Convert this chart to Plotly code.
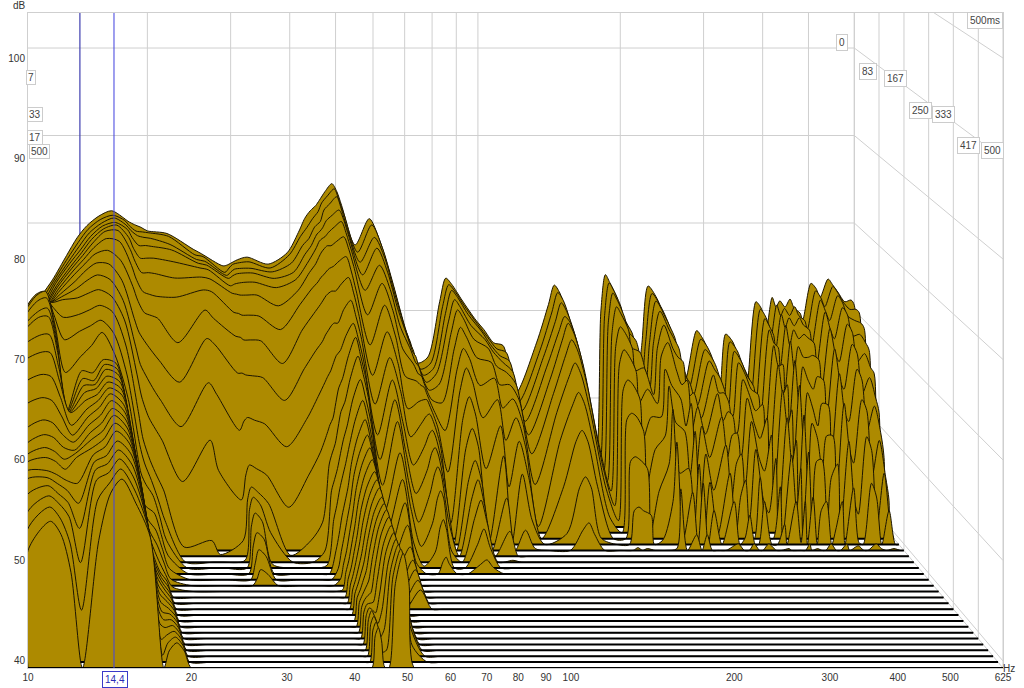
import math
import plotly.graph_objects as go

FLOOR_DB = 39.3
SLICE_COUNT = 31
X_TICKS = [10, 20, 30, 40, 50, 60, 70, 80, 90, 100, 200, 300, 400, 500, 625]
Y_TICKS = [40, 50, 60, 70, 80, 90, 100]
TIME_TICKS = [0, 83, 167, 250, 333, 417, 500]
CURSOR_HZ = 14.4

# Level (dB) at one frequency, one value per time slice from back (0 ms) to front (500 ms).
# Lists stop where the level has dropped to the floor.
L10 = [55,56,57,58,59,60,60.5,61,61.5,62,62.5,63,63.7,64.3,64.8,65,65,64.5,63.5,61.8,60,58,57,56.5,56.4,56.2,55.9,54.8,53.6,52.5,51]
L11 = [57.5,58,58.7,59.5,60.5,61.5,62.5,63.5,64.5,65.5,66.5,67.4,68.1,68.5,68.4,67.8,67.7,66.3,65,63.2,61.3,59.5,58.5,57.7,57.2,56.4,56.2,55.9,55.4,54.8,53.9]
L11_5 = [59.5,60,60.5,61,61.8,62.5,63.3,64.2,65,65.9,66.8,67.6,68.5,69,68.8,68.2,67.8,66.4,65,63,61,59.2,58.2,57.3,56.8,56,55.6,55.1,54.6,53.7,52.6]
L12 = [61.8,62,62.2,62.5,63,63.5,64,64.6,65.2,65.8,66.3,66.3,66,65.5,65,64.5,64,63,62,60.8,59.4,58,57.2,56.5,56,55.4,54.9,54.2,53.3,51.2,48.8]
L12_6 = [63.5,63.9,64.3,64.7,65,65.4,65.7,66,66.2,66.4,66.6,65.2,63.3,60.3,56.6,57.2,57.7,58.2,58.7,57.9,57.4,57.2,56.9,57.1,57.2,55.1,53.6,51.6,48.7,44.5,39.3]
L13_5 = [66.3,66.5,66.7,67,67.2,67.5,67.7,67.8,67.6,67.3,66.8,65.5,64.2,62,61,60.7,60.5,60.3,60,59.6,59.3,59,58.7,58.5,58.2,58,57.8,57.5,57,55.5,52]
L14_2 = [68.3,68.3,68.4,68.5,68.7,68.9,69,69,68.8,68.2,67.3,66,64.8,63.2,60.8,60.5,60.6,60.7,60.6,60.5,60.3,60,59.7,59.4,59.1,58.8,58.4,58.1,57.7,57.2,56.7]
L14_9 = [69.7,69.8,69.9,70,70.2,70.3,70.3,70.1,69.6,68.8,67.7,66.5,65.4,64.6,62.2,62.2,62.2,62,61.9,61.8,61.7,61.5,61.2,61,60.7,60.4,59.9,59.5,59.1,58.6,58.1]
L15_8 = [70.8,70.9,71,71.2,71.4,71.6,71.3,70.5,69.5,68.3,67,65.8,64,62.2,61.8,61.7,61.6,61.4,61.2,61,60.6,60.3,60,59.7,59.4,59.1,58.6,58,57.3,56.5,55.7]
L16_8 = [71.4,71.4,71.6,71.6,71.8,71.7,71,69.4,67.7,66,64.4,62.2,59.5,57.4,55,55,54.9,54.8,54.7,54.6,54.5,54.2,54,53.7,53.4,53,52.8,52.6,52.5,52.4,52.3]
L17_8 = [70.6,70.8,70.8,70.8,70.4,69.6,68.3,66.5,63.5,61,58.5,55,52,49.5,47,46.8,46.8,46.7,46.6,46.5,46.5,46.2,45.8,45,44.2,43.5,42.8,42,41,40,39.3]
L18_2 = [70.2,70.2,70.2,69.9,69.2,68.3,66.8,65,62,59,56,52,50,48.3,46.4,45.6,45,44.5,44,43.7,43.5,43.3,43,42.7,42.4,42,41.8,41.6,41.4,41.2,41]
L18_8 = [69.8,69.6,69.6,69,68.1,67,65.4,63.6,60.8,57.5,53.8,49.7,48.1,47.1,45.8,44.6,43.6,42.6,42,42,42,42,41.9,41.9,41.8,41.8,41.8,41.8,41.8,41.8,41.8]
L19_4 = [69.5,69.5,69.4,69,68.1,67,65.1,63.3,59.8,56.2,52.5,48,46,44.8,43.5,42.5,41.7,41.1,41,41,41,41,41,41,41,41,41,41,41,41,41]
L20 = [69.1,69.4,69.3,68.9,68.1,66.9,64.9,63,58.9,55.1,51.3,46.5,43.8,42.3,41.3,40.5,40,39.8]
L22 = [68.8,69,68.6,68.5,67.7,66.4,64.8,60.3,56.5,52.2,46.8,40.3]
L25 = [67,66.9,66.9,67,67,66.5,65.6,63.9,61.3,57,51.3,41]
L26 = [66.5,66.7,66.7,66.8,66.8,66.3,65.4,63,60.6,55.7,48,39.5]
L28_9 = [65.1,64.9,65.1,65.3,65,64.7,63.1,61,57.5,51.8,44.8,41,39.5]
L29_5 = [65.2,65.4,65.5,65.6,65.2,64.6,63,60.9,57.5,52.8,47.5,45.5,45,43.8,42.3,41,40]
L30 = [65.4,65.8,65.8,65.8,65.3,64.5,62.8,60.6,57.3,53.2,48.6,46.8,46.3,45.2,43.7,42.5,41]
L31 = [65.8,66,65.9,65.9,65.4,64.5,62.8,60.6,57.2,52.9,48.2,46.2,45.5,44.3,43,41.8,40.5]
L32_5 = [66.1,66.1,65.9,65.9,65.4,64.5,62.7,60.5,57,52.5,47.5,45,42.5,39.7]
L36 = [65.3,65.4,65.5,65.3,64.8,63.3,61.2,58,54.5,50,44,39.4]
L39_5 = [66.6,66.9,66.5,66,65.7,65,64,61.7,58,53,47.5,41]
L41_7 = [68.9,69,68.5,68,67.5,67,65.7,63.5,60,55.5,50,43,40.5,39.6]
L43 = [70.5,70,69.3,69,68.7,68,66.5,64.5,61,57,52,49.3,47,44.5,41.8,40.5,40,39.5]
L43_6 = [71,70.5,70,69.7,69.3,68.7,67,65,61.7,57.7,53,50.5,48.2,46,43.5,42.3,41.6,41.3,41.2,41.2,41.3,41.5,41.7,41.8,41.9,42,42.2,42.4,42.5,42.5,42.5]
L44_2 = [71.4,71,70.6,70.3,70,69.3,67.3,65.5,62.2,58.3,53.7,51.5,49.4,47.8,45.5,44,43,42.6,42.4,42.4,42.4,42.5,42.5,42.6,42.7,42.8,43,43.3,43.3,43.3,43.3]
L44_8 = [71.7,71.4,70.9,70.6,70.3,69.7,67.7,65.8,62.7,59.2,55.4,53.3,51,49.2,47,45.8,44.9,44.4,44.1,43.9,43.7,43.6,43.5,43.3,43.1,42.9,42.8,42.7,42.6,42.3,42]
L45_4 = [72,71.8,71.2,71,70.5,70,68,66,63,60,57,55,52.5,50.5,48.5,47.5,46.8,46.2,45.8,45.5,45.1,44.8,44.5,44,43.4,43,42.5,42,41.2,40.3,39.4]
L46_2 = [72.6,72.8,72.5,71.8,71,70,68.2,66,63,60.5,58,56,54,52.5,51.3,50.5,49.7,49,48.5,48,47.5,47.2,47,46.5,46,45.3,44.4,43.3,42,40.5,39.3]
L47_5 = [73.6,73.6,73.2,72.4,71.6,70.5,68.8,66.8,64.5,62.2,60.5,58.8,57,55.3,54,53,52.3,51.6,51,50.6,50.3,50,49.8,49.6,49.4,49,48.7,48.2,48,47.9,47.7]
L49_1 = [74.5,74.4,74,73,72.2,71,69.3,67.5,65.5,63.5,62.5,61,59,57.3,55.8,54.7,53.9,53.2,52.5,52.2,51.9,51.5,51.4,51.3,51.1,50.8,50.6,50.5,50.5,50.6,50.7]
L50_3 = [73.6,73,72.5,71.8,70.8,69.6,67.7,65.8,63.7,61.8,60.4,59,57,55.3,53.8,52.7,52,51.4,50.8,50.4,50.1,49.8,49.6,49.4,49.2,49,48.6,48.2,48,47.9,47.8]
L51_5 = [72,71.5,70.7,70,69,67.7,65.5,63.5,61.5,59.5,58,56.5,54.5,52.5,51,50,49.3,48.7,48.2,47.8,47.3,47,46.6,46.2,45.8,45.2,44.5,43.5,42.5,41,39.3]
L55 = [67.5,67.2,66.6,65.7,64.5,62.3,59.5,56.7,54.1,51.3,49.2,47,44.9,43.4,41.9,41.4,40.5]
L58_9 = [70.5,70.3,69.4,68.7,67.3,65.8,63.9,61.5,59.2,57.3,55.7,53.9,51.1,48.8,46.9,45.1,43.4,42.6,42.2,41.7,41.3]
L62 = [68,67.7,67,66,64.6,62.8,60.5,58,55.5,52.5,50,47.5,45,42,40.5]
L65 = [64.4,64,63,62,60.5,58.5,56,53,50.5,48,45.5,43,41,39.5]
L68_4 = [60,59.6,59,58.5,57.8,56.8,55.5,53.8,52,50,48,46,43.5,41]
L70 = [58,57.8,57.4,57,56.4,55.7,55,54,52.8,51.4,50,48.3,46.2,43.7,40.6]
L71 = [57.2,57,56.7,56.5,56,55.5,54.8,54,53,51.8,50.5,49,47,44.5,41.1]
L72 = [56,55.8,55.6,55.4,55,54.6,54,53.3,52.4,51.2,49.8,48.3,46.2,43.5,40.4]
L74_7 = [54,53.9,53.8,53.6,53.3,52.8,52,51,49.5,47.5,45.5,43,40.5]
L78_4 = [54.7,54.6,54.6,54.6,54,52.5,50,46,41]
L83 = [61,61,60.8,60.4,59.8,58.5,56.8,55,52.5,49.8,47,45.5,44,41.8,40.3]
L85_5 = [63.7,63.5,63.4,62.9,62.3,60.9,59.1,57.5,54.9,52,49.1,47.6,46,43.5,40.8]
L88 = [63,62.8,62.6,62,61.3,59.8,58,56,53,50,47,45,43.5,41.5,40]
L92_5 = [61.2,61,60.7,60,59,57.5,55,52,47,39.6]
L99 = [58.9,58.8,58.7,58.4,58,57,55.8,54,51.7,49,45,42,39.5]
L103 = [57.8,57.6,57.3,57,56,54.5,52.5,49.5,45,39.6]
L108 = [56.3,56.2,56,55.8,55.3,54.5,53.5,52,50,47,41.5]
L113 = [56,55.8,55.4,54.8,54,52.8,51,48.8,46,42,39.5]
L120 = [50.5,50.2,49.8,49.2,48.3,46.8,44,40]
L133 = [56.3,56,55.8,55.3,54.5,53.5,52,49.5,45,40.5]
L141 = [60.7,60.4,59.9,59.3,58.9,57.8,56,53.4,50,45.5,41.5]
L145 = [62.9,62.6,62,61,60.8,59.5,57.5,54.8,51.2,46.7,42.3]
L149 = [62,61.7,61,60.3,59.7,58.4,56.3,53.6,50,45.5,41]
L156 = [58.6,58.3,57.8,57,56,54.5,52,49,45,40]
L168 = [49.8,49.5,49,48.3,47.2,45.5,43.5,41]
L178 = [44,43.5,43,42.5,42,41,40]
L182 = [60,60,59.8,59.2,58.2,56.8,54.5,51.8,47.8,43,39.6]
L186 = [64.1,63.7,63.1,62.1,60.4,58.4,55.6,52.5,48.3,43.4]
L190 = [63.2,62.9,62.3,61.3,59.8,57.8,55.2,52.2,48,43,39.5]
L197 = [61.4,61,60.3,59.5,58,56,53.5,50.5,47,42.5]
L200 = [60,59.6,58.8,57.5,55.5,52.5,49,44.5,40]
L208 = [58.1,58,57.7,57,55.8,54,51.5,48.5,44.5,39.8]
L218 = [52.9,53,53,53,52.8,52.4,51.5,50,47.5,44,39.5]
L222 = [56,57,57.5,58,58,57.7,56.8,55.5,53.5,50.5,46]
L229 = [62.8,62.5,62.2,61.6,60.6,59.2,55,51.5,46.5,40]
L239 = [61.4,61,60.5,59.6,58,56,53.5,50.5,47,45,41]
L245 = [60,59.8,59.3,58.5,57,54.5,50.5,45.5,40]
L251 = [58.6,58.3,58,57.4,56.5,55,53,50.5,47.5,46,41]
L257 = [56,55.8,55.5,54.5,52.5,49.5,45.5,41]
L264 = [54.3,54.2,54,53.6,53,52,50.5,48,45.5,43]
L274 = [52,51.8,51.5,51,50.2,49,47,44,39.8]
L290 = [57.7,57.3,56.7,56,55,53.5,51.5,49,46.5,44,40]
L298 = [56.9,56.6,56,55,53,50.5,47,43,39.6]
L305 = [55.8,55.5,55,54.2,53,51.5,49.5,47,44,40]
L312 = [54.1,53.8,53.4,52.8,52,51,49.7,48,45.7,42.5,40]
L320 = [52.4,52,51.4,50.3,48.5,46,42.5,39.6]
L325 = [51.3,51,50.5,49.8,48.5,46.5,44,41]
L334 = [57.3,57,56.5,55.8,54.5,53,51,48.5,46,44,40]
L346 = [56.4,56,55.3,54.3,52.5,50,47,43,39.5]
L355 = [54.7,54.4,53.8,52.8,51,48.5,45.5,41.5]
L367 = [52.9,52.7,52.5,52.2,51.7,50.8,49.5,47.5,45,41.5,39.5]
L371 = [51.7,51.3,50.5,49,47,44.5,41.5]
L387 = [61,60.7,60.2,59.5,58.3,56.7,54.5,52,48.5,44]
L396 = [60.4,60,59.3,58,56,53.5,50.5,47,42.5,39.5]
L404 = [59.1,58.8,58.3,57.5,56.2,54.5,52.3,49.5,47,44,40]
L408 = [58.1,57.6,56.7,55.2,53,50,46.5,42,39.5]
L419 = [61.5,61.2,60.7,60,58.8,57.2,55,52.3,48.8,44.5,39.5]
L427 = [60.4,60,59.2,57.8,55.5,52.5,49,44.5,39.6]
L435 = [61.1,60.8,60.3,59.5,58.2,56.5,54.2,51.4,47.8,43]
L446 = [60.4,60,59.4,58.5,57,55,52.5,49.8,48,44,40]
L457 = [61.3,61,60.3,59,57,54,50.5,46,40.5]
L466 = [60.3,60,59.5,58.6,57.2,55.4,53,50,46,41]
L480 = [59.7,59.4,58.9,58,56.7,55,52.8,50,47.5,44,40]
L486 = [58.9,58.4,57.3,55.5,53,50,46,41.5,39.4]
L506 = [63.1,62.8,62.3,61.5,60.2,58.5,56.3,53.6,50,45.5,39.8]
L519 = [62.5,62,61,59.5,57.5,55,52,48.5,43.5,39.5]
L529 = [61.5,61,60,58.5,56.5,54,51,47,42]
L550 = [63.6,63.3,62.8,62,60.7,59,56.8,54,50.5,46,40]
L563 = [62.9,62.6,62,61.2,59.8,58,55.6,52.8,49,44.5,39.5]
L577 = [62.1,61.6,60.5,58.8,56.5,53.5,50,45.5,40.5]
L597 = [61,60.7,60,59,57.4,55.3,52.7,49.5,46.5,43,39.5]
L615 = [61.2,60.7,59.7,58,55.8,53,49.8,45.5,40.5]
L625 = [60.6,60.3,59.1,57.2,55.2,51.4,47,42.9]

COLUMNS = [
    (10, L10), (11, L11), (11.5, L11_5), (12, L12), (12.6, L12_6), (13.5, L13_5), (14.2, L14_2), (14.9, L14_9),
    (15.8, L15_8), (16.8, L16_8), (17.8, L17_8), (18.2, L18_2), (18.8, L18_8), (19.4, L19_4), (20, L20), (22, L22),
    (25, L25), (26, L26), (28.9, L28_9), (29.5, L29_5), (30, L30), (31, L31), (32.5, L32_5), (36, L36), (39.5, L39_5), (41.7, L41_7),
    (43, L43), (43.6, L43_6), (44.2, L44_2), (44.8, L44_8), (45.4, L45_4), (46.2, L46_2), (47.5, L47_5), (49.1, L49_1),
    (50.3, L50_3), (51.5, L51_5), (55, L55), (58.9, L58_9), (62, L62), (65, L65), (68.4, L68_4), (70, L70), (71, L71),
    (72, L72), (74.7, L74_7), (78.4, L78_4), (83, L83), (85.5, L85_5), (88, L88), (92.5, L92_5), (99, L99), (103, L103),
    (108, L108), (113, L113), (120, L120), (133, L133), (141, L141), (145, L145), (149, L149), (156, L156), (168, L168),
    (178, L178), (182, L182), (186, L186), (190, L190), (197, L197), (200, L200), (208, L208), (218, L218), (222, L222), (229, L229),
    (239, L239), (245, L245), (251, L251), (257, L257), (264, L264), (274, L274), (290, L290), (298, L298), (305, L305),
    (312, L312), (320, L320), (325, L325), (334, L334), (346, L346), (355, L355), (367, L367), (371, L371), (387, L387),
    (396, L396), (404, L404), (408, L408), (419, L419), (427, L427), (435, L435), (446, L446), (457, L457), (466, L466),
    (480, L480), (486, L486), (506, L506), (519, L519), (529, L529), (550, L550), (563, L563), (577, L577), (597, L597),
    (615, L615), (625, L625),
]

# Waterfall geometry: depth 0 is the back wall, depth 1 the front plane (the real axes).
X_DECADE_BACK = 473 / 543
X_SHIFT_BACK = -23 / 543
Y_SCALE_BACK = 8.75 / 10.05
Y_SHIFT_BACK = 175.5 / 10.05
W, H = 1024, 688
L, R, T, B = 28, 1003, 13, 668
PLOT_COLOR = "#ad8a00"
GRID = "#cfcfcf"


def project_x(hz, depth):
    u = math.log10(hz / 10)
    back = X_SHIFT_BACK + X_DECADE_BACK * u
    return 10 * 10 ** (back + (u - back) * depth)


def project_y(db, depth):
    back = 40 + Y_SHIFT_BACK + Y_SCALE_BACK * (db - 40)
    return back + (db - back) * depth


def px_x(p):
    return (p - L) / (R - L)


def px_y(p):
    return (B - p) / (B - T)


fig = go.Figure()
y_top = 104.48


def rule(xs, ys, color=GRID, width=1):
    fig.add_trace(go.Scatter(x=xs, y=ys, mode="lines", hoverinfo="skip", showlegend=False,
                             line=dict(color=color, width=width)))


# back wall
for db in Y_TICKS:
    rule([project_x(10, 0), project_x(625, 0)], [project_y(db, 0)] * 2)
for hz in X_TICKS[1:]:
    rule([project_x(hz, 0)] * 2, [project_y(FLOOR_DB, 0), y_top])
# right wall
for db in Y_TICKS + [FLOOR_DB]:
    rule([project_x(625, 0), project_x(625, 1)], [project_y(db, 0), project_y(db, 1)])
for t in TIME_TICKS:
    d = t / 500
    rule([project_x(625, d)] * 2, [project_y(FLOOR_DB, d), y_top])
# rear cursor
rule([project_x(CURSOR_HZ, 0)] * 2, [project_y(FLOOR_DB, 0), y_top], "#3f3fb0", 1.2)

freqs = [c[0] for c in COLUMNS]
for k in range(SLICE_COUNT):
    d = k / (SLICE_COUNT - 1)
    levels = [c[1][k] if k < len(c[1]) else FLOOR_DB for c in COLUMNS]
    xs = [project_x(f, d) for f in freqs]
    ys = [project_y(max(v, FLOOR_DB), d) for v in levels]
    floor_y = project_y(FLOOR_DB, d)
    fig.add_trace(go.Scatter(x=[xs[0]] + xs + [xs[-1]], y=[floor_y] + ys + [floor_y],
                             mode="lines", fill="toself", fillcolor=PLOT_COLOR,
                             hoverinfo="skip", showlegend=False,
                             line=dict(color="#1c1500", width=1, shape="spline", smoothing=0.8)))
    rule([xs[0], xs[-1]], [floor_y, floor_y], "#000000", 2)

# front cursor
rule([CURSOR_HZ, CURSOR_HZ], [FLOOR_DB, y_top], "rgba(70,70,225,0.65)", 1.6)

font = dict(family="Liberation Sans, Arial, sans-serif", size=10, color="#333333")
ann = []


def box(text, px, py, pad=2):
    ann.append(dict(xref="paper", yref="paper", x=px_x(px), y=px_y(py), xanchor="center", yanchor="middle",
                    text=text, showarrow=False,
                    font=dict(family=font["family"], size=10, color="#444444"), bgcolor="#ffffff",
                    bordercolor="#cccccc", borderwidth=1, borderpad=pad))


for label, px, py in [("0", 842, 42), ("83", 868, 72), ("167", 895, 78), ("250", 920, 110),
                      ("333", 943, 114), ("417", 968, 145), ("500", 992, 150), ("500ms", 985, 20)]:
    box(label, px, py)
for label, px, py in [("7", 31, 77), ("33", 35, 114), ("17", 35, 137), ("500", 39, 151)]:
    box(label, px, py, 1)

ann.append(dict(xref="paper", yref="paper", x=px_x(19), y=px_y(6), xanchor="center", yanchor="middle",
                text="dB", showarrow=False, font=font))
ann.append(dict(xref="paper", yref="paper", x=px_x(1009), y=px_y(668), xanchor="center", yanchor="middle",
                text="Hz", showarrow=False, font=font))
ann.append(dict(xref="paper", yref="paper", x=px_x(115), y=px_y(679), xanchor="center", yanchor="middle",
                text="14,4", showarrow=False,
                font=dict(family=font["family"], size=10, color="#2a2ab5"), bgcolor="#ffffff",
                bordercolor="#3a3ac8", borderwidth=1, borderpad=2))

fig.update_layout(
    width=W, height=H, margin=dict(l=L, r=W - R, t=T, b=H - B, autoexpand=False), showlegend=False,
    plot_bgcolor="#ffffff", paper_bgcolor="#ffffff", annotations=ann, font=font,
    xaxis=dict(type="log", range=[1, math.log10(625)], tickmode="array", tickvals=X_TICKS,
               ticktext=[str(v) for v in X_TICKS], showgrid=False, zeroline=False, ticks="",
               showline=True, linecolor=GRID, mirror=True, tickfont=font),
    yaxis=dict(range=[FLOOR_DB, y_top], tickmode="array", tickvals=Y_TICKS,
               ticktext=[str(v) for v in Y_TICKS], showgrid=False, zeroline=False, ticks="",
               showline=True, linecolor=GRID, mirror=True, tickfont=font),
)
fig.write_html("out.html", config={"displayModeBar": False},
               post_script="document.body.style.margin='0';")
